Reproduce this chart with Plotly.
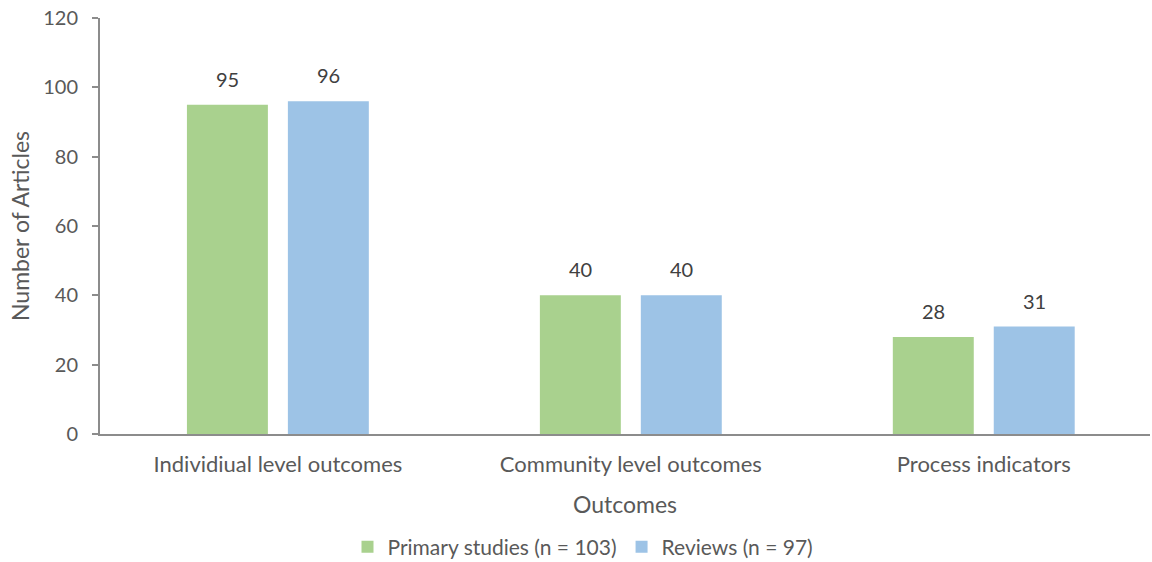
import plotly.graph_objects as go

categories = ["Individiual level outcomes", "Community level outcomes", "Process indicators"]
primary_values = [95, 40, 28]
review_values = [96, 40, 31]
series_names = ["Primary studies (n = 103)", "Reviews (n = 97)"]
y_ticks = [0, 20, 40, 60, 80, 100, 120]

FONT = "Lato"
GREEN = "#A9D18E"
BLUE = "#9DC3E6"
AXIS = "#8c8c8c"
TEXT = "#595959"
BARGAP = 0.428

fig = go.Figure()
for name, vals, color in [(series_names[0], primary_values, GREEN),
                          (series_names[1], review_values, BLUE)]:
    fig.add_trace(go.Bar(
        x=categories, y=vals, name=name,
        marker=dict(color=color, line=dict(width=0)),
        cliponaxis=False,
    ))

# value labels floated a little above each bar (centred on each bar's slot)
slot = (1 - BARGAP) / 2
for k, vals in enumerate([primary_values, review_values]):
    for i, v in enumerate(vals):
        fig.add_annotation(
            x=i + (k - 0.5) * slot, y=v, xref="x", yref="y",
            text=str(v), showarrow=False, yanchor="bottom", yshift=12,
            font=dict(family=FONT, size=20, color="#404040"),
        )

fig.update_layout(
    width=1152, height=562,
    margin=dict(l=100, r=2, t=18, b=128, autoexpand=False),
    paper_bgcolor="white", plot_bgcolor="white",
    barmode="group", bargap=BARGAP, bargroupgap=0.198,
    font=dict(family=FONT, size=21, color=TEXT),
    showlegend=True,
    legend=dict(orientation="h", x=0.46, xanchor="center", y=-0.272, yanchor="middle",
                font=dict(family=FONT, size=21, color=TEXT),
                itemwidth=30, traceorder="normal"),
    xaxis=dict(
        range=[-0.504, 2.471],
        showline=True, linecolor=AXIS, linewidth=2, ticks="",
        tickfont=dict(family=FONT, size=22, color=TEXT), ticklabelstandoff=10,
        title=dict(text="Outcomes", font=dict(family=FONT, size=23, color=TEXT), standoff=20),
        showgrid=False,
    ),
    yaxis=dict(
        range=[0, 120], tickvals=y_ticks, showline=True, linecolor=AXIS, linewidth=2,
        ticks="outside", ticklen=6, tickcolor=AXIS, tickwidth=1.5,
        tickfont=dict(family=FONT, size=20, color=TEXT), ticklabelstandoff=10,
        title=dict(text="Number of Articles", font=dict(family=FONT, size=23, color=TEXT), standoff=7),
        showgrid=False, zeroline=False,
    ),
)

fig.write_html("out.html")
